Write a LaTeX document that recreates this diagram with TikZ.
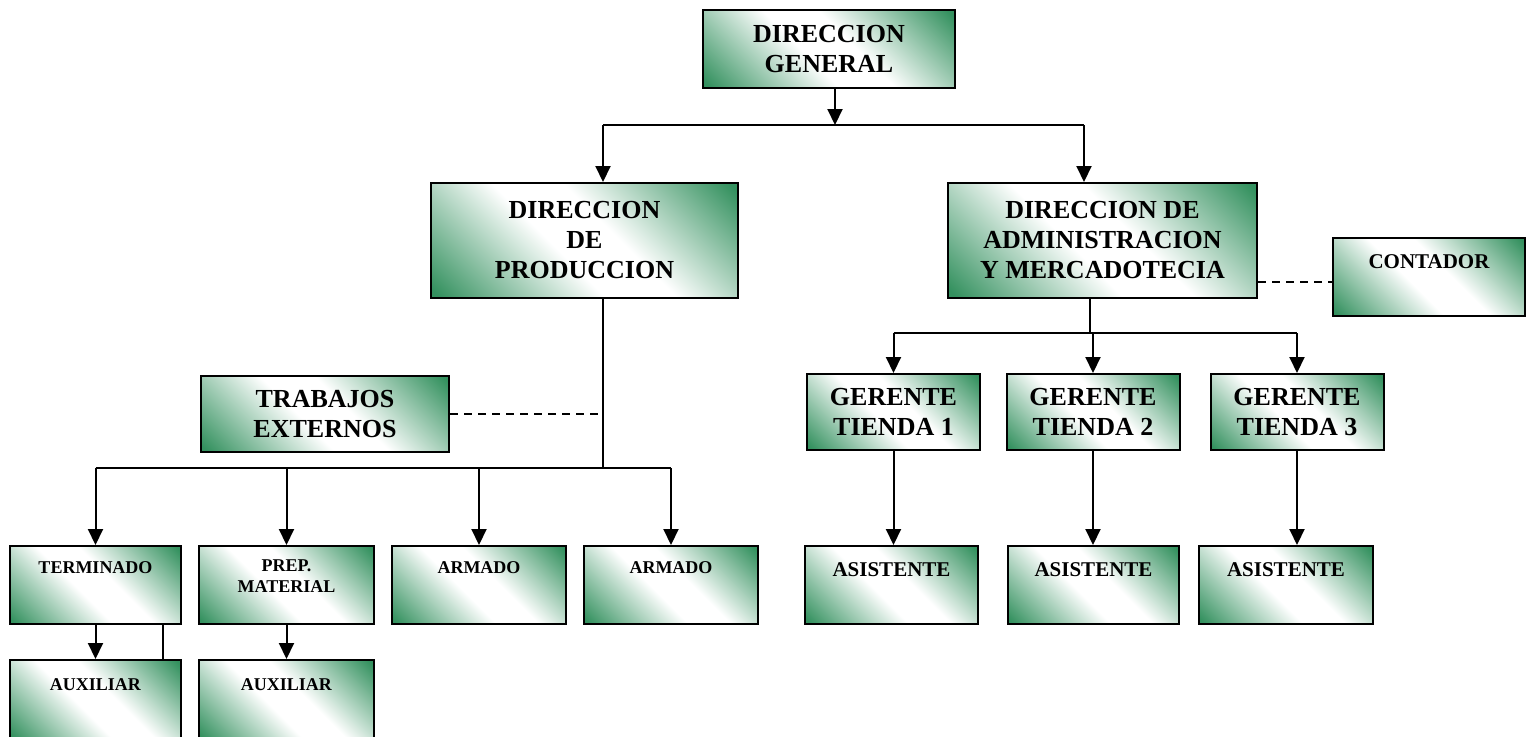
\documentclass[tikz,border=0pt]{standalone}
\usepackage{fontspec}
\setmainfont{Liberation Serif}
\usetikzlibrary{arrows.meta,positioning}
\definecolor{verdeorg}{RGB}{52,145,95}
\pgfdeclarehorizontalshading{verdediag}{100bp}{color(0bp)=(verdeorg); color(16bp)=(verdeorg);
  color(44bp)=(white); color(56bp)=(white); color(84bp)=(verdeorg); color(100bp)=(verdeorg)}
\tikzset{
  caja/.style={draw=black, line width=1pt, inner sep=0pt, align=center,
    shade, shading=verdediag, shading angle=45},
  grande/.style={font=\fontsize{13}{15}\selectfont\bfseries},
  mediano/.style={font=\fontsize{10.5}{12}\selectfont\bfseries, inner sep=0pt},
  chico/.style={font=\fontsize{9}{10.5}\selectfont\bfseries, align=center, inner sep=0pt},
  linea/.style={line width=1pt},
  flecha/.style={line width=1pt, -{Triangle[length=8pt,width=7.5pt]}},
  punteado/.style={line width=0.8pt, dash pattern=on 4pt off 3pt}
}

\begin{document}
\begin{tikzpicture}[x=0.5pt,y=0.5pt]
  \useasboundingbox (0,0) rectangle (1528,-736);
  % direcciones
  \node[caja,grande,minimum width=126pt,minimum height=39pt] (dg) at (829,-49) {DIRECCION\\GENERAL};
  \node[caja,grande,minimum width=153.5pt,minimum height=57.5pt] (dp) at (584.5,-240.5) {DIRECCION\\DE\\PRODUCCION};
  \node[caja,grande,minimum width=154.5pt,minimum height=57.5pt] (da) at (1102.5,-240.5) {DIRECCION DE\\ADMINISTRACION\\Y MERCADOTECIA};
  \node[caja,minimum width=96pt,minimum height=39pt] (cont) at (1429,-277) {};
  \node[mediano, below=8.5pt of cont.north] (cont-t) {CONTADOR};
  \node[caja,grande,minimum width=124pt,minimum height=38pt] (trab) at (325,-414) {TRABAJOS\\EXTERNOS};
  % produccion
  \foreach \n/\x/\w in {term/95.5/85.5,prep/286.5/87.5,arm1/479/87,arm2/671/87}
    \node[caja,minimum width=\w pt,minimum height=39pt] (\n) at (\x,-585) {};
  \node[chico, below=8pt of term.north] (term-t) {TERMINADO};
  \node[chico, below=7pt of prep.north] (prep-t) {PREP.\\MATERIAL};
  \node[chico, below=8pt of arm1.north] (arm1-t) {ARMADO};
  \node[chico, below=8pt of arm2.north] (arm2-t) {ARMADO};
  \foreach \n/\x/\w in {aux1/95.5/85.5,aux2/286.5/87.5}
    {\node[caja,minimum width=\w pt,minimum height=40pt] (\n) at (\x,-700) {};
     \node[chico, below=9.5pt of \n.north] (\n-t) {AUXILIAR};}
  % tiendas
  \foreach \n/\x in {gt1/893.5,gt2/1093,gt3/1297}
    \node[caja,grande,minimum width=86.5pt,minimum height=38pt] (\n) at (\x,-412) {};
  \node[grande,align=center] (gt1-t) at (gt1) {GERENTE\\TIENDA 1};
  \node[grande,align=center] (gt2-t) at (gt2) {GERENTE\\TIENDA 2};
  \node[grande,align=center] (gt3-t) at (gt3) {GERENTE\\TIENDA 3};
  \foreach \n/\x/\w in {as1/891.5/86.5,as2/1093.5/85.5,as3/1286/87}
    {\node[caja,minimum width=\w pt,minimum height=39pt] (\n) at (\x,-585) {};
     \node[mediano, below=8.5pt of \n.north] (\n-t) {ASISTENTE};}

  % conectores
  \coordinate (bus1) at (835,-125);
  \coordinate (ejep) at (603,-125);
  \coordinate (ejea) at (1084,-125);
  \draw[flecha] (dg.south -| bus1) -- (bus1);
  \draw[linea] (ejep) -- (ejea);
  \draw[flecha] (ejep) -- (ejep |- dp.north);
  \draw[flecha] (ejea) -- (ejea |- da.north);

  \coordinate (bus2) at (603,-468);
  \draw[linea] (dp.south -| bus2) -- (bus2);
  \draw[linea] (term.north |- bus2) -- (arm2.north |- bus2);
  \foreach \n in {term,prep,arm1,arm2} \draw[flecha] (\n.north |- bus2) -- (\n.north);
  \draw[punteado] (trab.east) -- (trab.east -| bus2);
  \draw[flecha] (term.south) -- (aux1.north);
  \draw[linea] ([xshift=-9.5pt]term.south east) -- ([xshift=-9.5pt]aux1.north east);
  \draw[flecha] (prep.south) -- (aux2.north);

  \coordinate (bus3) at (1090,-333);
  \draw[linea] (da.south -| bus3) -- (bus3);
  \draw[linea] (gt1.north |- bus3) -- (gt3.north |- bus3);
  \foreach \n in {gt1,gt2,gt3} \draw[flecha] (\n.north |- bus3) -- (\n.north);
  \foreach \g/\a in {gt1/as1,gt2/as2,gt3/as3} \draw[flecha] (\g.south) -- (\g.south |- \a.north);
  \draw[punteado] ([yshift=-2.5pt]cont.west -| da.east) -- ([yshift=-2.5pt]cont.west);
\end{tikzpicture}
\end{document}
